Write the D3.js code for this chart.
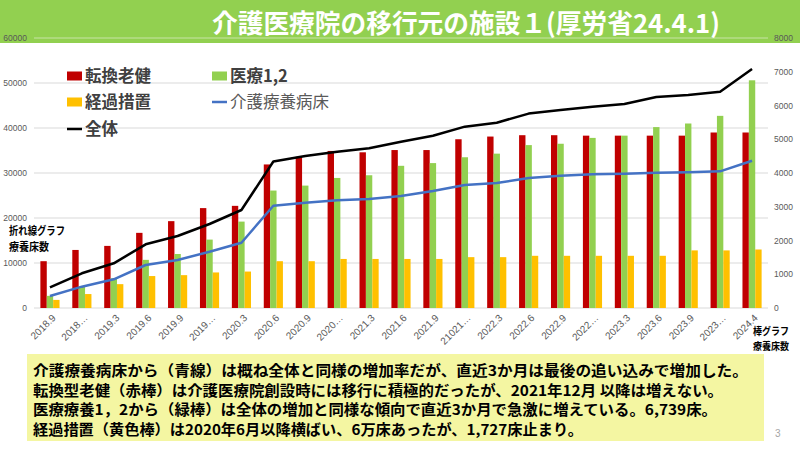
<!DOCTYPE html>
<html><head><meta charset="utf-8">
<script src="https://cdn.jsdelivr.net/npm/d3@7"></script>
<style>
body{margin:0;background:#fff;}
svg{display:block;font-family:"Noto Sans CJK JP","Noto Sans",sans-serif;}
</style></head>
<body><svg id="c" width="800" height="450"></svg>
<script>
const categories = ["2018.9","2018…","2019.3","2019.6","2019.9","2019…","2020.3","2020.6","2020.9","2020…","2021.3","2021.6","2021.9","21021…","2022.3","2022.6","2022.9","2022…","2023.3","2023.6","2023.9","2023…","2024.4"];
const roken   = [10400,12900,13800,16700,19300,22200,22700,31900,33600,34900,34600,35100,35100,37500,38100,38400,38400,38300,38300,38300,38300,39000,39000];
const iryo12  = [2700,4700,6600,10700,12000,15200,19200,26100,27200,28900,29500,31600,32200,33500,34300,36200,36500,37800,38300,40200,41000,42700,50600];
const keika   = [1800,3100,5300,7100,7300,7900,8100,10400,10400,10900,10900,10900,10900,11300,11300,11600,11600,11600,11600,11600,12800,12800,13000];
const kaigo   = [355,632,850,1274,1422,1668,1935,3030,3120,3190,3230,3320,3467,3644,3704,3850,3921,3960,3980,4009,4019,4049,4364];
const zentai  = [613,1028,1324,1887,2133,2489,2904,4340,4504,4631,4731,4928,5106,5373,5491,5760,5867,5965,6044,6252,6311,6410,7081];
const leftTicks  = [0,10000,20000,30000,40000,50000,60000];
const rightTicks = [0,1000,2000,3000,4000,5000,6000,7000,8000];
const barSeries = ["転換老健","医療1,2","経過措置"];
const lineSeries = ["介護療養病床","全体"];
const titleText = "介護医療院の移行元の施設１(厚労省24.4.1)";
const noteLines = [
 "介護療養病床から（青線）は概ね全体と同様の増加率だが、直近3か月は最後の追い込みで増加した。",
 "転換型老健（赤棒）は介護医療院創設時には移行に積極的だったが、2021年12月 以降は増えない。",
 "医療療養1，2から（緑棒）は全体の増加と同様な傾向で直近3か月で急激に増えている。6,739床。",
 "経過措置（黄色棒）は2020年6月以降横ばい、6万床あったが、1,727床止まり。"
];

const colors = {"転換老健":"#C00000","医療1,2":"#92D050","経過措置":"#FFC000","介護療養病床":"#4472C4","全体":"#000000"};
const barData = {"転換老健":roken,"医療1,2":iryo12,"経過措置":keika};
const lineData = {"介護療養病床":kaigo,"全体":zentai};

const svg = d3.select("#c");
svg.append("rect").attr("x",0).attr("y",0).attr("width",800).attr("height",43).attr("fill","#92D050");

const x = d3.scaleBand().domain(categories).range([34,768]).paddingInner(0.4).paddingOuter(0.2);
const x1 = d3.scaleBand().domain(barSeries).range([0,x.bandwidth()]);
const yL = d3.scaleLinear().domain([0,60000]).range([308,38]);
const yR = d3.scaleLinear().domain([0,8000]).range([308,38]);

svg.append("g").selectAll("line").data(leftTicks.slice(1)).join("line")
  .attr("x1",34).attr("x2",768).attr("y1",d=>yL(d)).attr("y2",d=>yL(d))
  .attr("stroke",d=>d===60000?"#c8e3a6":"#d9d9d9").attr("stroke-width",1);
svg.append("line").attr("x1",34).attr("x2",768).attr("y1",308).attr("y2",308).attr("stroke","#d9d9d9");

svg.append("text").attr("x",212).attr("y",33).attr("fill","#fff").attr("font-size",26).attr("font-weight","bold")
  .attr("textLength",508).attr("lengthAdjust","spacingAndGlyphs").text(titleText);

const axL = svg.append("g").attr("transform","translate(33,0)")
  .call(d3.axisLeft(yL).tickValues(leftTicks).tickSize(0).tickPadding(6).tickFormat(d3.format("d")));
const axR = svg.append("g").attr("transform","translate(768,0)")
  .call(d3.axisRight(yR).tickValues(rightTicks).tickSize(0).tickPadding(6).tickFormat(d3.format("d")));
[axL,axR].forEach(a=>{a.select(".domain").remove();a.selectAll("text").attr("fill","#595959").attr("font-size",8.5).attr("font-family","Liberation Sans, Arial, sans-serif");});

const groups = svg.append("g").selectAll("g").data(categories).join("g")
  .attr("transform",d=>`translate(${x(d)},0)`);
groups.selectAll("rect").data((c,i)=>barSeries.map(s=>({s,v:barData[s][i]}))).join("rect")
  .attr("x",d=>x1(d.s)).attr("width",x1.bandwidth()).attr("y",d=>yL(d.v)).attr("height",d=>308-yL(d.v))
  .attr("fill",d=>colors[d.s]);

const line = d3.line().x((v,i)=>x(categories[i])+x.bandwidth()/2).y(v=>yR(v));
lineSeries.forEach(s=>{
  svg.append("path").datum(lineData[s]).attr("d",line).attr("fill","none")
    .attr("stroke",colors[s]).attr("stroke-width",2.5).attr("stroke-linejoin","round");
});

svg.append("g").selectAll("text").data(categories).join("text")
  .attr("transform",d=>`translate(${x(d)+x.bandwidth()/2+4},316) rotate(-45)`)
  .attr("text-anchor","end").attr("dy","0.35em").attr("font-size",10).attr("fill","#595959")
  .attr("font-family","Liberation Sans, Arial, sans-serif").text(d=>d);

const lg = svg.append("g");
const legendItems = [
  {s:"転換老健",x:67,y:76,type:"bar",bold:true},
  {s:"経過措置",x:67,y:102,type:"bar",bold:true},
  {s:"全体",x:67,y:129,type:"line",bold:true},
  {s:"医療1,2",x:212,y:76,type:"bar",bold:true},
  {s:"介護療養病床",x:212,y:102,type:"line",bold:false}
];
legendItems.forEach(it=>{
  if(it.type==="bar") lg.append("rect").attr("x",it.x).attr("y",it.y-4.5).attr("width",15).attr("height",9).attr("fill",colors[it.s]);
  else lg.append("line").attr("x1",it.x).attr("x2",it.x+15).attr("y1",it.y).attr("y2",it.y).attr("stroke",colors[it.s]).attr("stroke-width",2.5);
  lg.append("text").attr("x",it.x+18).attr("y",it.y).attr("dy","0.36em")
    .attr("font-size",16.5).attr("font-weight",it.bold?"bold":"normal").attr("fill",it.bold?"#404040":"#595959").text(it.s);
});

const side = svg.append("g").attr("font-weight","bold").attr("fill","#000");
side.append("text").attr("x",9).attr("y",235).attr("font-size",11).attr("textLength",56).attr("lengthAdjust","spacingAndGlyphs").text("折れ線グラフ");
side.append("text").attr("x",9).attr("y",251).attr("font-size",11).attr("textLength",40).attr("lengthAdjust","spacingAndGlyphs").text("療養床数");
side.append("text").attr("x",753).attr("y",335).attr("font-size",10.5).attr("textLength",36).attr("lengthAdjust","spacingAndGlyphs").text("棒グラフ");
side.append("text").attr("x",753).attr("y",350).attr("font-size",10.5).attr("textLength",36).attr("lengthAdjust","spacingAndGlyphs").text("療養床数");

svg.append("rect").attr("x",27).attr("y",354).attr("width",737).attr("height",87).attr("fill","#F4F6A2");
const noteEnds = [748,723,717,583];
svg.append("g").selectAll("text").data(noteLines).join("text")
  .attr("x",33).attr("y",(d,i)=>376+i*19.5).attr("font-size",14.5).attr("font-weight","bold").attr("fill","#000")
  .attr("textLength",(d,i)=>noteEnds[i]-33).attr("lengthAdjust","spacingAndGlyphs").text(d=>d);

svg.append("text").attr("x",775).attr("y",437).attr("font-size",10).attr("fill","#a6a6a6")
  .attr("font-family","Liberation Sans, Arial, sans-serif").text("3");
</script></body></html>
